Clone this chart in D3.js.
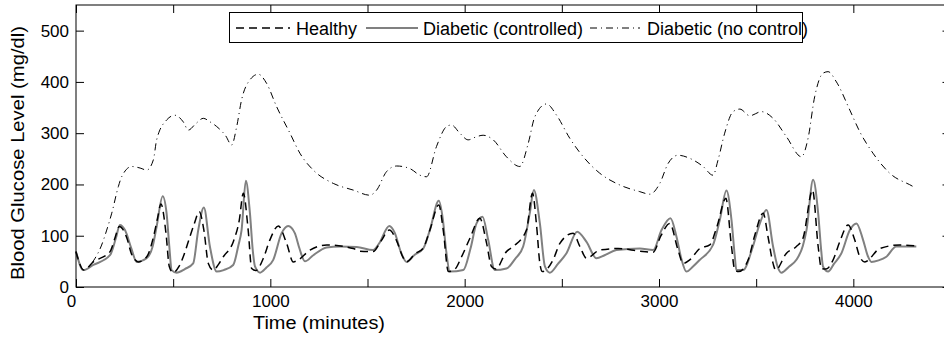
<!DOCTYPE html>
<html>
<head>
<meta charset="utf-8">
<script src="https://cdn.jsdelivr.net/npm/d3@7"></script>
<style>
  html, body { margin: 0; padding: 0; background: #fff; }
  svg { display: block; }
  text { font-family: "Liberation Sans", Arial, Helvetica, sans-serif; }
</style>
</head>
<body>
<script>
// ---------------- DATA ----------------
const xTicks = [0, 500, 1000, 1500, 2000, 2500, 3000, 3500, 4000, 4500];
const xTickLabels = [0, 1000, 2000, 3000, 4000];
const yTicks = [0, 100, 200, 300, 400, 500];
const seriesNames = ["Healthy", "Diabetic (controlled)", "Diabetic (no control)"];

const timeHealthy = [0,40,89,175,200,223,262,285,304,320,364,400,420,437,463,480,500,530,552,586,610,634,658,681,706,735,758,809,840,861,886,904,925,964,998,1041,1084,1118,1140,1204,1290,1427,1460,1529,1570,1612,1650,1680,1701,1745,1787,1821,1867,1890,1916,1950,1984,2027,2078,2113,2138,2160,2215,2250,2318,2349,2370,2387,2400,2455,2490,2558,2593,2627,2695,2790,2901,2970,3010,3055,3098,3124,3158,3210,3261,3300,3344,3373,3390,3410,3459,3493,3536,3561,3587,3600,3656,3707,3741,3790,3819,3836,3860,3896,3930,3973,4007,4033,4059,4136,4239,4320];
const healthy = [69,33,49,69,95,118,95,65,53,49,59,100,135,162,105,40,28,40,59,98,125,147,111,46,33,45,59,88,130,183,111,36,32,56,92,119,85,49,52,72,82,75,70,69,90,111,90,60,49,65,76,111,160,110,30,35,59,95,134,85,40,35,69,79,111,183,120,46,30,53,85,105,79,56,72,75,70,68,100,124,72,46,53,75,82,120,173,79,33,30,53,101,144,98,46,33,66,79,95,189,79,36,35,53,88,121,92,59,49,75,82,80];

const timeControlled = [0,38,89,175,205,226,252,285,312,363,395,415,446,466,480,492,518,560,603,629,658,689,724,760,809,835,852,874,895,910,921,947,980,1015,1058,1092,1126,1150,1178,1221,1290,1358,1444,1529,1560,1612,1641,1670,1701,1740,1787,1821,1867,1888,1905,1924,1993,2030,2061,2092,2121,2155,2215,2260,2301,2335,2356,2387,2413,2438,2480,2524,2579,2627,2678,2720,2781,2901,2970,3013,3059,3090,3115,3141,3175,3210,3278,3313,3347,3373,3390,3398,3433,3480,3519,3553,3587,3610,3630,3670,3707,3740,3759,3793,3819,3835,3844,3870,3900,3939,3982,4016,4050,4075,4093,4130,4170,4221,4324];
const controlled = [69,33,43,62,95,121,111,75,49,56,80,118,177,144,80,33,28,35,46,111,155,79,30,33,43,80,111,207,144,70,40,28,38,53,105,119,105,75,50,62,77,79,78,72,85,119,105,70,49,62,75,111,168,131,70,30,33,75,124,137,92,33,36,55,79,144,189,124,40,28,45,66,108,88,56,62,72,75,72,111,134,98,55,30,40,53,82,131,188,131,60,33,33,75,124,150,79,40,28,40,53,80,111,209,144,70,40,30,45,66,111,124,92,60,49,52,59,79,79];

const timeNoControl = [0,40,98,130,158,184,218,235,287,330,364,398,415,467,509,552,578,615,655,690,724,770,801,827,852,895,938,981,1032,1101,1152,1221,1324,1427,1512,1547,1598,1650,1718,1770,1804,1855,1907,1932,1975,2018,2060,2095,2147,2215,2284,2327,2361,2421,2473,2541,2610,2695,2798,2901,2953,3004,3047,3098,3158,3227,3278,3304,3338,3381,3416,3467,3527,3587,3656,3733,3767,3801,3844,3870,3913,3982,4033,4101,4187,4307,4320];
const noControl = [69,33,56,80,111,144,196,215,235,232,228,248,287,326,335,322,306,318,329,322,313,295,277,313,365,404,415,397,352,300,261,228,202,189,179,189,225,236,231,218,215,274,313,316,300,287,293,296,287,254,235,280,332,357,335,290,254,222,199,186,181,202,241,257,251,235,218,248,300,342,347,334,342,329,293,254,290,371,417,420,400,345,303,261,222,196,193];

// ---------------- CHART ----------------
(function () {
const W = 944, H = 338;
const mL = 76, mR = 950.5, mT = 5, mB = 287;
const FS = 17, FSLEG = 18;

const svg = d3.select("body").append("svg").attr("width", W).attr("height", H);
svg.append("rect").attr("width", W).attr("height", H).attr("fill", "#fff");

const x = d3.scaleLinear().domain([0, 4500]).range([mL, mR]);
const y = d3.scaleLinear().domain([0, 550]).range([mB, mT]);

const line = d3.line().x(d => x(d[0])).y(d => y(d[1])).curve(d3.curveMonotoneX);

const series = [
  { name: seriesNames[0], t: timeHealthy, v: healthy, stroke: "#000", width: 1.5, dash: "8,5" },
  { name: seriesNames[1], t: timeControlled, v: controlled, stroke: "#808080", width: 2, dash: null },
  { name: seriesNames[2], t: timeNoControl, v: noControl, stroke: "#000", width: 1, dash: "7,4,1,4" }
];

const plot = svg.append("g");
[series[2], series[1], series[0]].forEach(s => {
  plot.append("path")
    .datum(s.t.map((t, i) => [t, s.v[i]]))
    .attr("fill", "none")
    .attr("stroke", s.stroke)
    .attr("stroke-width", s.width)
    .attr("stroke-dasharray", s.dash)
    .attr("d", line);
});

function styleAxis(g) {
  g.select(".domain").remove();
  g.selectAll(".tick line").attr("stroke", "#000").attr("stroke-width", 1);
  g.selectAll("text").attr("font-size", FS).attr("fill", "#000")
    .attr("font-family", '"Liberation Sans", Arial, Helvetica, sans-serif');
}

svg.append("g").attr("transform", `translate(0,${mB})`)
  .call(d3.axisBottom(x).tickValues(xTicks).tickSizeInner(-8).tickSizeOuter(0).tickPadding(8)
    .tickFormat(d => xTickLabels.includes(d) ? String(d) : ""))
  .call(styleAxis)
  .call(g => g.selectAll(".tick text").filter(d => d === 0).attr("dx", -5));

svg.append("g").attr("transform", `translate(0,${mT})`)
  .call(d3.axisTop(x).tickValues(xTicks).tickSizeInner(-8).tickSizeOuter(0).tickFormat(""))
  .call(styleAxis);

svg.append("g").attr("transform", `translate(${mL},0)`)
  .call(d3.axisLeft(y).tickValues(yTicks).tickSizeInner(-8).tickSizeOuter(0).tickPadding(7))
  .call(styleAxis);

svg.append("g").attr("transform", `translate(${mR},0)`)
  .call(d3.axisRight(y).tickValues(yTicks).tickSizeInner(-8).tickSizeOuter(0).tickFormat(""))
  .call(styleAxis);

svg.append("rect")
  .attr("x", mL).attr("y", mT)
  .attr("width", mR - mL).attr("height", mB - mT)
  .attr("fill", "none").attr("stroke", "#000").attr("stroke-width", 1);

svg.append("text")
  .attr("x", 319).attr("y", 329)
  .attr("text-anchor", "middle").attr("font-size", 18)
  .attr("textLength", 132).attr("lengthAdjust", "spacingAndGlyphs")
  .text("Time (minutes)");

svg.append("text")
  .attr("transform", `translate(24,153) rotate(-90)`)
  .attr("text-anchor", "middle").attr("font-size", 17.5)
  .attr("textLength", 254).attr("lengthAdjust", "spacingAndGlyphs")
  .text("Blood Glucose Level (mg/dl)");

const leg = svg.append("g");
leg.append("rect")
  .attr("x", 229.5).attr("y", 12.5).attr("width", 573).attr("height", 30)
  .attr("fill", "#fff").attr("stroke", "#000").attr("stroke-width", 1);
const legItems = [
  { s: series[0], x0: 236, x1: 290, tx: 296 },
  { s: series[1], x0: 366, x1: 418, tx: 423 },
  { s: series[2], x0: 590, x1: 640, tx: 647 }
];
legItems.forEach(it => {
  leg.append("line")
    .attr("x1", it.x0).attr("x2", it.x1).attr("y1", 28).attr("y2", 28)
    .attr("stroke", it.s.stroke).attr("stroke-width", it.s.width)
    .attr("stroke-dasharray", it.s.dash);
  leg.append("text")
    .attr("x", it.tx).attr("y", 34.5).attr("font-size", FSLEG)
    .text(it.s.name);
});
})();
</script>
</body>
</html>
